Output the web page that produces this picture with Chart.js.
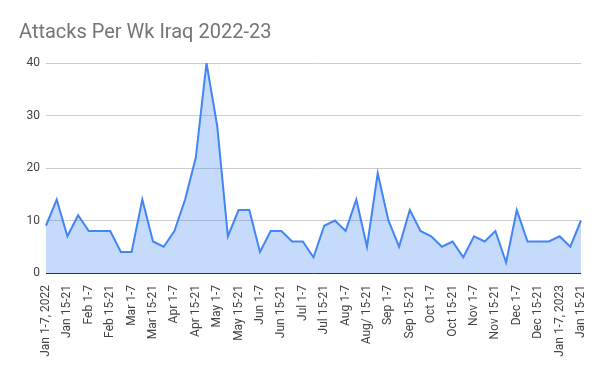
<!DOCTYPE html>
<html>
<head>
<meta charset="utf-8">
<script src="https://cdn.jsdelivr.net/npm/chart.js@4"></script>
<style>
  html, body { margin: 0; padding: 0; background: #fff; }
  #wrap { width: 600px; height: 371px; }
</style>
</head>
<body>
<div id="wrap"><canvas id="attacksChart"></canvas></div>
<script>
const weeks = [
    'Jan 1-7, 2022', 'Jan 8-14', 'Jan 15-21', 'Jan 22-31',
    'Feb 1-7', 'Feb 8-14', 'Feb 15-21', 'Feb 22-28',
    'Mar 1-7', 'Mar 8-14', 'Mar 15-21', 'Mar 22-31',
    'Apr 1-7', 'Apr 8-14', 'Apr 15-21', 'Apr 22-30',
    'May 1-7', 'May 8-14', 'May 15-21', 'May 22-31',
    'Jun 1-7', 'Jun 8-14', 'Jun 15-21', 'Jun 22-30',
    'Jul 1-7', 'Jul 8-14', 'Jul 15-21', 'Jul 22-31',
    'Aug 1-7', 'Aug 8-14', 'Aug/ 15-21', 'Aug 22-31',
    'Sep 1-7', 'Sep 8-14', 'Sep 15-21', 'Sep 22-30',
    'Oct 1-7', 'Oct 8-14', 'Oct 15-21', 'Oct 22-31',
    'Nov 1-7', 'Nov 8-14', 'Nov 15-21', 'Nov 22-30',
    'Dec 1-7', 'Dec 8-14', 'Dec 15-21', 'Dec 22-31',
    'Jan 1-7, 2023', 'Jan 8-14', 'Jan 15-21'
];

const attacks = [
    9, 14, 7, 11, 8, 8, 8, 4, 4, 14,
    6, 5, 8, 14, 22, 40, 28, 7, 12, 12,
    4, 8, 8, 6, 6, 3, 9, 10, 8, 14,
    5, 19, 10, 5, 12, 8, 7, 5, 6, 3,
    7, 6, 8, 2, 12, 6, 6, 6, 7, 5, 10
];

const yTicks = [0, 10, 20, 30, 40];

const ctx = document.getElementById('attacksChart').getContext('2d');

const chart = new Chart(ctx, {
    type: 'line',
    data: {
        labels: weeks,
        datasets: [{
            label: 'Attacks',
            data: attacks,
            borderColor: '#4285f4',
            backgroundColor: 'rgba(66, 133, 244, 0.3)',
            borderWidth: 2,
            fill: 'origin',
            tension: 0,
            pointRadius: 0
        }]
    },
    options: {
        responsive: true,
        maintainAspectRatio: false,
        animation: false,
        layout: { padding: { left: 19, right: 19, top: 0, bottom: 0 } },
        plugins: {
            legend: { display: false },
            tooltip: { enabled: false },
            title: {
                display: true,
                text: 'Attacks Per Wk Iraq 2022-23',
                align: 'start',
                color: '#757575',
                font: { family: 'Roboto', size: 20, weight: 'normal' },
                padding: { top: 21, bottom: 18 }
            }
        },
        scales: {
            x: {
                offset: false,
                grid: { display: false },
                border: { display: false },
                afterFit: (scale) => { scale.height = 98; },
                ticks: {
                    autoSkip: false,
                    minRotation: 90,
                    maxRotation: 90,
                    padding: 4,
                    color: '#444',
                    font: { family: 'Roboto', size: 12 },
                    callback: function (value, index) {
                        // only every other week gets a label, like the original
                        return index % 2 === 0 ? this.getLabelForValue(value) : '';
                    }
                }
            },
            y: {
                min: yTicks[0],
                max: yTicks[yTicks.length - 1],
                afterFit: (scale) => { scale.width = 27; },
                afterBuildTicks: (scale) => {
                    scale.ticks = yTicks.map(v => ({ value: v }));
                },
                border: { display: false },
                grid: {
                    drawTicks: false,
                    color: (c) => c.tick && c.tick.value === 0 ? '#333' : '#ccc',
                    lineWidth: 1
                },
                ticks: {
                    padding: 6,
                    color: '#444',
                    font: { family: 'Roboto', size: 12 }
                }
            }
        }
    }
});
</script>
</body>
</html>
